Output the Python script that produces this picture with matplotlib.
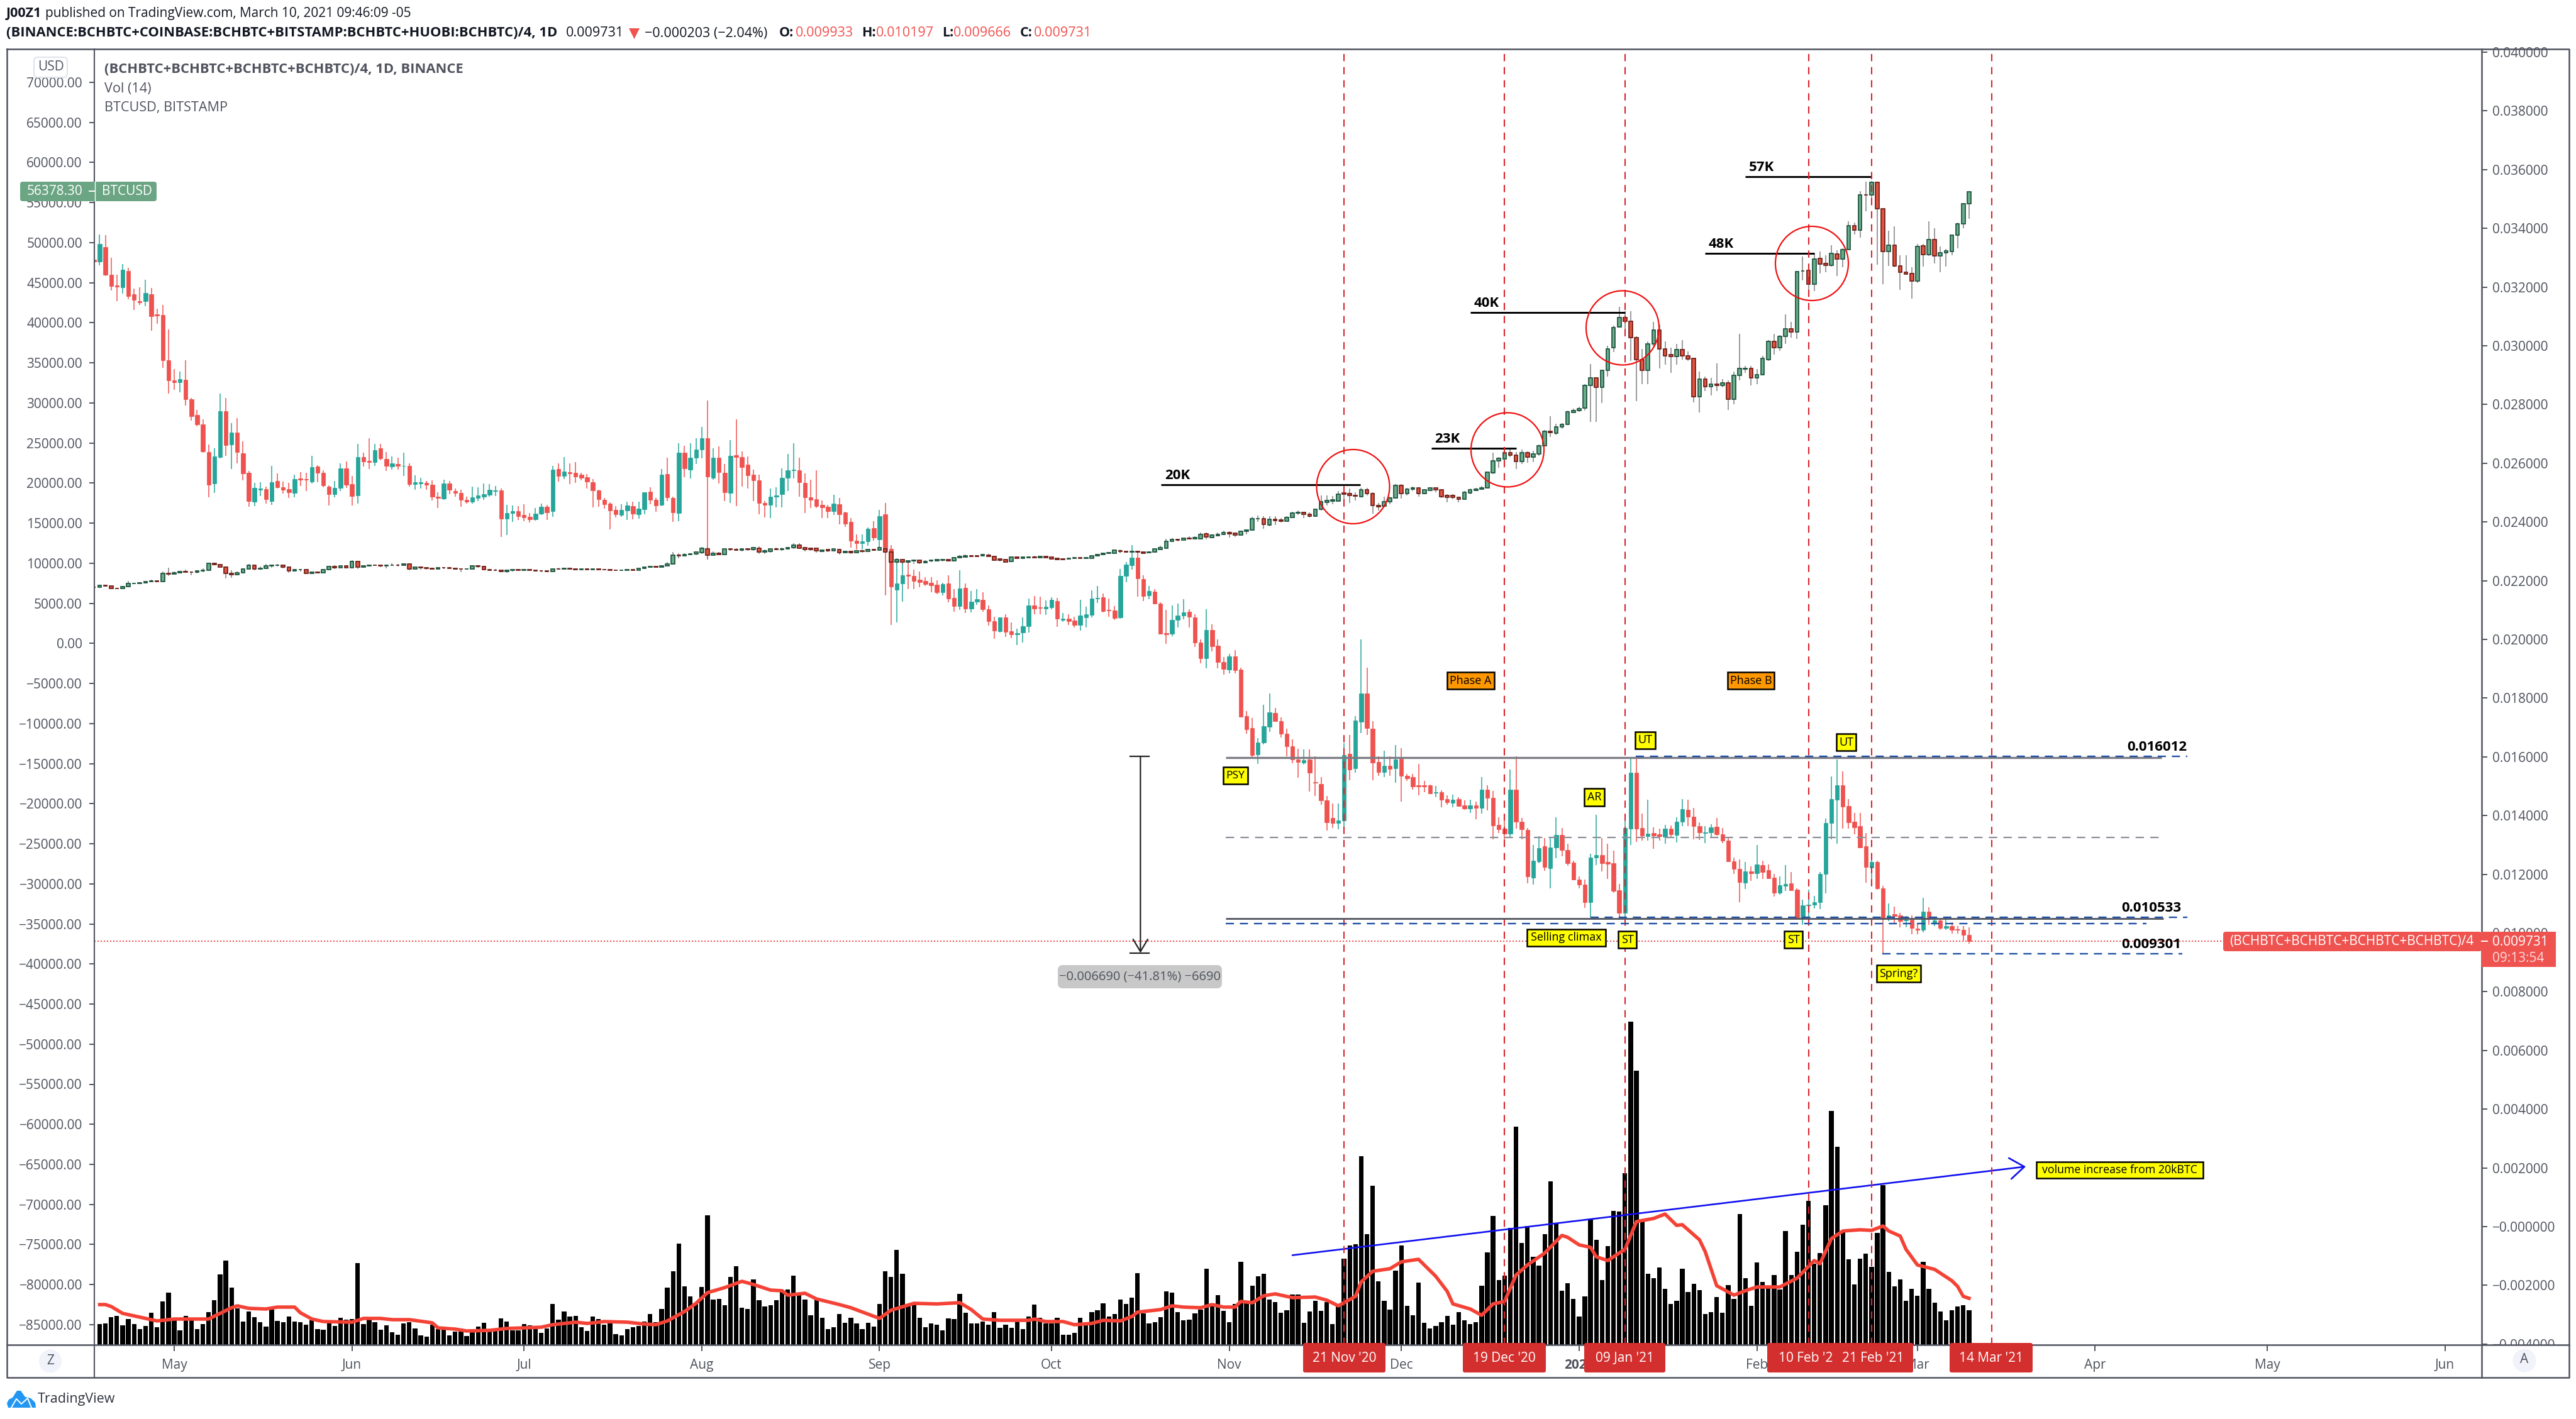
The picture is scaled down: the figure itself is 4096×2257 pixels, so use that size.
import numpy as np
import pandas as pd
import matplotlib
matplotlib.use("Agg")
import matplotlib.pyplot as plt
from matplotlib.patches import Ellipse, FancyBboxPatch, Polygon, Rectangle
from matplotlib.ticker import FixedLocator

plt.rcParams['font.family'] = ['Open Sans', 'DejaVu Sans']

W, H = 4096, 2257

# everything is daily, first candle is 17 Apr 2020, last one 10 Mar 2021
first_day = '2020-04-17'

# BCHBTC index, in 1e-5 BTC
bch_open = [
    3293, 3288, 3337, 3242, 3206, 3199, 3255, 3176, 3152, 3153, 3176, 3106, 3104, 2951, 2882, 2875, 2885, 2819, 2764, 2732,
    2639, 2530, 2621, 2778, 2663, 2705, 2634, 2567, 2470, 2509, 2512, 2471, 2539, 2518, 2511, 2499, 2548, 2545, 2538, 2589,
    2567, 2521, 2495, 2515, 2582, 2529, 2491, 2621, 2609, 2603, 2650, 2615, 2589, 2598, 2590, 2592, 2529, 2532, 2533, 2527,
    2487, 2480, 2532, 2505, 2498, 2476, 2470, 2482, 2486, 2493, 2505, 2508, 2412, 2431, 2437, 2424, 2418, 2410, 2428, 2451,
    2436, 2581, 2557, 2570, 2567, 2561, 2553, 2536, 2508, 2476, 2463, 2441, 2425, 2439, 2454, 2427, 2444, 2504, 2475, 2459,
    2563, 2482, 2431, 2637, 2579, 2618, 2646, 2686, 2550, 2619, 2568, 2500, 2628, 2622, 2595, 2562, 2541, 2464, 2459, 2486,
    2494, 2550, 2576, 2575, 2534, 2485, 2477, 2458, 2452, 2436, 2461, 2432, 2400, 2336, 2328, 2334, 2379, 2340, 2427, 2309,
    2170, 2191, 2220, 2217, 2204, 2199, 2193, 2186, 2160, 2191, 2142, 2113, 2176, 2105, 2128, 2134, 2103, 2063, 2027, 2076,
    2028, 2017, 2023, 2046, 2115, 2109, 2105, 2109, 2130, 2067, 2070, 2065, 2049, 2076, 2083, 2139, 2144, 2101, 2099, 2076,
    2216, 2253, 2279, 2205, 2149, 2163, 2122, 2021, 2019, 2066, 2081, 2095, 2076, 1990, 1935, 2032, 1979, 1923, 1898, 1943,
    1897, 1738, 1698, 1608, 1648, 1703, 1750, 1722, 1679, 1635, 1590, 1581, 1590, 1514, 1508, 1452, 1391, 1375, 1383, 1611,
    1561, 1720, 1816, 1696, 1583, 1548, 1570, 1561, 1593, 1535, 1530, 1503, 1504, 1504, 1477, 1479, 1457, 1443, 1456, 1434,
    1423, 1434, 1427, 1488, 1461, 1368, 1356, 1339, 1488, 1379, 1352, 1189, 1244, 1295, 1221, 1292, 1335, 1283, 1239, 1183,
    1165, 1104, 1256, 1265, 1242, 1237, 1146, 1069, 1356, 1547, 1358, 1330, 1340, 1336, 1328, 1355, 1334, 1379, 1420, 1396,
    1365, 1340, 1342, 1361, 1337, 1315, 1245, 1219, 1172, 1209, 1203, 1231, 1214, 1188, 1137, 1161, 1169, 1147, 1049, 1094,
    1096, 1104, 1201, 1374, 1455, 1503, 1432, 1379, 1363, 1295, 1222, 1242, 1153, 1053, 1064, 1061, 1043, 1045, 1016, 1010,
    1073, 1037, 1043, 1018, 1024, 1012, 1010, 993,
]
bch_high = [
    3296, 3379, 3377, 3300, 3243, 3279, 3265, 3194, 3200, 3224, 3197, 3126, 3140, 3056, 2920, 2913, 2951, 2822, 2782, 2750,
    2664, 2651, 2837, 2822, 2736, 2753, 2675, 2573, 2533, 2536, 2520, 2591, 2565, 2537, 2533, 2561, 2569, 2568, 2626, 2593,
    2577, 2525, 2540, 2599, 2606, 2557, 2665, 2636, 2685, 2666, 2666, 2639, 2623, 2619, 2637, 2599, 2559, 2550, 2540, 2542,
    2502, 2543, 2540, 2514, 2509, 2487, 2520, 2519, 2532, 2529, 2522, 2514, 2459, 2457, 2454, 2460, 2430, 2448, 2463, 2459,
    2591, 2600, 2621, 2599, 2604, 2567, 2564, 2547, 2510, 2481, 2466, 2453, 2461, 2469, 2469, 2469, 2502, 2518, 2482, 2580,
    2618, 2486, 2669, 2660, 2669, 2685, 2723, 2814, 2652, 2658, 2597, 2678, 2750, 2640, 2623, 2578, 2562, 2472, 2513, 2518,
    2583, 2631, 2668, 2618, 2566, 2544, 2575, 2474, 2459, 2492, 2482, 2435, 2414, 2358, 2358, 2381, 2402, 2442, 2465, 2322,
    2275, 2265, 2264, 2238, 2231, 2213, 2211, 2201, 2193, 2219, 2172, 2236, 2191, 2164, 2172, 2160, 2115, 2078, 2076, 2086,
    2058, 2037, 2074, 2140, 2148, 2146, 2133, 2144, 2142, 2090, 2086, 2078, 2134, 2111, 2168, 2183, 2156, 2140, 2113, 2240,
    2264, 2322, 2302, 2218, 2181, 2171, 2127, 2101, 2115, 2122, 2137, 2103, 2086, 2000, 2103, 2052, 2000, 1939, 1951, 1963,
    1904, 1756, 1732, 1663, 1777, 1816, 1766, 1735, 1697, 1660, 1627, 1625, 1625, 1602, 1530, 1466, 1442, 1442, 1647, 1674,
    1738, 2001, 1903, 1721, 1601, 1620, 1601, 1641, 1629, 1541, 1541, 1577, 1519, 1506, 1501, 1486, 1469, 1471, 1463, 1451,
    1453, 1447, 1532, 1504, 1484, 1393, 1381, 1556, 1601, 1391, 1358, 1299, 1329, 1324, 1324, 1395, 1358, 1303, 1246, 1192,
    1183, 1270, 1402, 1324, 1305, 1280, 1168, 1402, 1598, 1598, 1407, 1453, 1360, 1356, 1369, 1366, 1393, 1457, 1453, 1426,
    1377, 1365, 1371, 1391, 1358, 1328, 1258, 1251, 1242, 1227, 1299, 1246, 1233, 1201, 1192, 1231, 1207, 1153, 1114, 1147,
    1127, 1207, 1389, 1534, 1592, 1551, 1457, 1408, 1408, 1340, 1270, 1246, 1160, 1101, 1090, 1069, 1057, 1061, 1033, 1119,
    1087, 1053, 1047, 1053, 1037, 1024, 1024, 1020,
]
bch_low = [
    3286, 3274, 3237, 3188, 3153, 3177, 3158, 3122, 3140, 3134, 3052, 3074, 2925, 2838, 2851, 2842, 2797, 2746, 2726, 2635,
    2484, 2500, 2617, 2626, 2581, 2599, 2542, 2451, 2455, 2488, 2463, 2459, 2513, 2497, 2481, 2483, 2522, 2505, 2532, 2536,
    2518, 2457, 2484, 2505, 2517, 2456, 2463, 2589, 2581, 2591, 2611, 2573, 2578, 2579, 2557, 2520, 2510, 2514, 2509, 2473,
    2448, 2476, 2495, 2486, 2451, 2463, 2463, 2472, 2476, 2487, 2489, 2348, 2355, 2400, 2407, 2402, 2399, 2404, 2423, 2406,
    2418, 2537, 2545, 2529, 2533, 2541, 2514, 2449, 2451, 2446, 2375, 2416, 2417, 2406, 2408, 2412, 2427, 2461, 2435, 2454,
    2472, 2400, 2402, 2553, 2548, 2597, 2617, 2271, 2543, 2532, 2471, 2464, 2454, 2521, 2514, 2471, 2427, 2416, 2413, 2450,
    2450, 2505, 2548, 2486, 2431, 2447, 2447, 2413, 2413, 2423, 2392, 2384, 2313, 2307, 2307, 2320, 2336, 2312, 2150, 2049,
    2058, 2128, 2172, 2172, 2177, 2181, 2160, 2154, 2149, 2126, 2094, 2100, 2090, 2093, 2117, 2095, 2048, 2003, 2023, 2008,
    2004, 1980, 1990, 2023, 2086, 2086, 2084, 2103, 2043, 2059, 2049, 2040, 2031, 2041, 2076, 2125, 2092, 2078, 2067, 2070,
    2194, 2238, 2146, 2131, 2138, 2119, 2017, 1984, 2010, 2041, 2069, 2041, 1974, 1918, 1902, 1959, 1902, 1881, 1884, 1884,
    1734, 1678, 1596, 1576, 1643, 1686, 1719, 1666, 1602, 1578, 1529, 1574, 1481, 1466, 1436, 1350, 1358, 1354, 1358, 1520,
    1547, 1682, 1675, 1520, 1535, 1531, 1535, 1511, 1448, 1519, 1488, 1470, 1479, 1474, 1463, 1429, 1436, 1429, 1430, 1420,
    1409, 1388, 1407, 1418, 1320, 1340, 1315, 1328, 1356, 1320, 1170, 1165, 1237, 1213, 1151, 1254, 1262, 1229, 1180, 1153,
    1086, 1053, 1231, 1209, 1184, 1137, 1053, 1053, 1299, 1311, 1315, 1315, 1286, 1315, 1305, 1325, 1309, 1365, 1365, 1319,
    1317, 1307, 1325, 1332, 1307, 1243, 1202, 1105, 1150, 1178, 1184, 1184, 1184, 1125, 1131, 1143, 1143, 1049, 1027, 1043,
    1084, 1082, 1135, 1320, 1303, 1356, 1356, 1336, 1289, 1172, 1168, 1147, 930, 1041, 1033, 1020, 1020, 996, 996, 1002,
    1027, 1024, 1010, 1010, 997, 997, 975, 964,
]
bch_close = [
    3286, 3347, 3242, 3204, 3202, 3259, 3170, 3156, 3147, 3179, 3101, 3102, 2950, 2882, 2876, 2887, 2819, 2761, 2732, 2640,
    2527, 2623, 2777, 2662, 2704, 2638, 2566, 2472, 2515, 2514, 2477, 2536, 2519, 2509, 2501, 2545, 2544, 2543, 2586, 2568,
    2524, 2494, 2515, 2582, 2527, 2489, 2621, 2605, 2603, 2645, 2617, 2592, 2600, 2591, 2591, 2529, 2536, 2536, 2526, 2487,
    2481, 2532, 2509, 2498, 2476, 2470, 2484, 2491, 2495, 2509, 2507, 2412, 2430, 2437, 2420, 2416, 2410, 2429, 2451, 2433,
    2578, 2557, 2572, 2566, 2554, 2550, 2537, 2508, 2477, 2461, 2438, 2427, 2441, 2456, 2428, 2445, 2500, 2475, 2457, 2561,
    2483, 2433, 2637, 2582, 2619, 2646, 2686, 2554, 2618, 2570, 2502, 2626, 2622, 2586, 2559, 2541, 2464, 2459, 2486, 2491,
    2550, 2576, 2579, 2535, 2484, 2476, 2454, 2450, 2436, 2463, 2427, 2395, 2336, 2328, 2335, 2377, 2346, 2420, 2299, 2180,
    2191, 2218, 2216, 2200, 2195, 2189, 2185, 2161, 2189, 2140, 2113, 2174, 2105, 2128, 2136, 2102, 2062, 2031, 2074, 2026,
    2017, 2022, 2045, 2115, 2105, 2106, 2111, 2134, 2070, 2071, 2062, 2049, 2081, 2085, 2140, 2142, 2097, 2098, 2073, 2217,
    2254, 2279, 2207, 2147, 2165, 2122, 2020, 2017, 2067, 2082, 2093, 2078, 1989, 1935, 2032, 1977, 1923, 1899, 1943, 1896,
    1736, 1694, 1607, 1649, 1705, 1751, 1721, 1678, 1635, 1590, 1582, 1588, 1547, 1512, 1451, 1377, 1375, 1383, 1607, 1557,
    1724, 1816, 1699, 1581, 1548, 1570, 1559, 1591, 1535, 1527, 1499, 1500, 1500, 1476, 1479, 1455, 1446, 1455, 1433, 1424,
    1434, 1427, 1488, 1461, 1366, 1354, 1339, 1488, 1378, 1354, 1192, 1246, 1289, 1224, 1292, 1335, 1283, 1237, 1183, 1165,
    1104, 1257, 1265, 1237, 1236, 1143, 1069, 1358, 1547, 1356, 1332, 1338, 1332, 1329, 1355, 1336, 1379, 1422, 1396, 1363,
    1342, 1342, 1360, 1336, 1314, 1245, 1219, 1173, 1209, 1203, 1233, 1207, 1187, 1137, 1163, 1166, 1146, 1049, 1094, 1097,
    1105, 1202, 1374, 1456, 1503, 1430, 1377, 1360, 1292, 1224, 1242, 1153, 1051, 1061, 1057, 1041, 1046, 1018, 1010, 1073,
    1047, 1043, 1018, 1024, 1010, 1010, 993, 973,
]

# BTCUSD, Bitstamp
btc_open = [
    7040, 7030, 7220, 7130, 6880, 6840, 7120, 7480, 7510, 7540, 7690, 7790, 7750, 8720, 8620, 8820, 8970, 8900, 8880, 9030,
    9150, 9990, 9810, 9540, 8730, 8570, 8810, 9310, 9790, 9310, 9380, 9670, 9730, 9770, 9510, 9070, 9170, 9180, 8720, 8900,
    8840, 9200, 9580, 9430, 9700, 9450, 10200, 9520, 9660, 9780, 9770, 9670, 9750, 9780, 9770, 9890, 9260, 9500, 9470, 9330,
    9300, 9480, 9440, 9380, 9310, 9280, 9310, 9660, 9630, 9240, 9160, 9100, 9000, 9120, 9180, 9140, 9230, 9090, 9060, 9020,
    8990, 9320, 9260, 9380, 9300, 9200, 9280, 9240, 9280, 9230, 9170, 9140, 9090, 9150, 9190, 9150, 9370, 9520, 9610, 9540,
    9680, 9900, 11020, 10910, 11100, 11150, 11350, 11780, 11030, 11210, 11120, 11780, 11750, 11600, 11780, 11680, 11870, 11420, 11510, 11780,
    11740, 11830, 11930, 12260, 11920, 11840, 11840, 11480, 11690, 11590, 11750, 11330, 11480, 11330, 11540, 11510, 11750, 11650, 11780, 11390,
    10170, 10470, 10180, 10290, 10370, 10060, 10280, 10340, 10390, 10440, 10280, 10670, 10790, 10940, 10900, 10910, 11030, 10850, 10520, 10480,
    10220, 10760, 10640, 10720, 10760, 10700, 10820, 10760, 10610, 10550, 10520, 10600, 10730, 10610, 10640, 10910, 11060, 11240, 11270, 11570,
    11480, 11420, 11480, 11390, 11330, 11420, 11750, 11900, 12740, 12950, 12920, 13160, 13040, 13040, 13640, 13220, 13460, 13580, 13820, 13790,
    13550, 14000, 14120, 15560, 15570, 14760, 15500, 15370, 15280, 15700, 16250, 16320, 16120, 15890, 16710, 17620, 17750, 17780, 18750, 18690,
    18500, 18330, 19140, 18720, 17190, 17090, 17650, 18140, 19700, 18720, 19210, 19400, 18660, 19110, 19370, 19180, 18490, 18460, 18200, 17970,
    18790, 19110, 19240, 19440, 21320, 22790, 23050, 23800, 23470, 22720, 23800, 23210, 23660, 24670, 26460, 26200, 27050, 27340, 28840, 29030,
    29390, 32180, 33100, 31990, 34100, 36870, 39470, 40700, 40190, 38170, 35440, 34040, 37360, 39110, 36770, 36020, 35790, 36670, 35890, 35530,
    30790, 32970, 32060, 32310, 32220, 32540, 30430, 33420, 34200, 34330, 33100, 33520, 35400, 37680, 36930, 38300, 39270, 38820, 46440, 46530,
    44840, 48020, 47370, 47210, 48570, 47930, 49130, 52090, 51540, 55990, 55930, 57490, 54200, 48900, 49650, 47080, 46300, 46140, 45230, 49580,
    48480, 50360, 48320, 48740, 48930, 50950, 52380, 54890,
]
btc_high = [
    7070, 7300, 7290, 7170, 6960, 7170, 7760, 7580, 7600, 7730, 7970, 7860, 8960, 9460, 9000, 9010, 9190, 8950, 9100, 9390,
    10030, 10070, 9920, 9570, 9160, 8980, 9400, 9930, 9840, 9580, 9880, 9840, 9890, 9830, 9560, 9290, 9310, 9300, 9000, 9000,
    9220, 9620, 9740, 9770, 9740, 10380, 10230, 9790, 9840, 9860, 9790, 9810, 9980, 9880, 9960, 9990, 9540, 9600, 9500, 9480,
    9520, 9530, 9490, 9400, 9330, 9390, 9770, 9730, 9680, 9320, 9280, 9130, 9190, 9230, 9200, 9300, 9280, 9130, 9150, 9070,
    9380, 9450, 9420, 9460, 9340, 9290, 9330, 9300, 9310, 9300, 9220, 9190, 9190, 9220, 9210, 9400, 9540, 9630, 9630, 9700,
    10180, 11380, 11270, 11210, 11200, 11450, 12020, 12080, 11490, 11420, 11800, 11900, 11900, 11800, 11850, 12050, 12080, 11700, 11820, 11960,
    11980, 12010, 12470, 12490, 12000, 11880, 11880, 11720, 11720, 11820, 11810, 11590, 11560, 11610, 11620, 11790, 11810, 12090, 12030, 11420,
    10640, 10570, 10350, 10410, 10410, 10350, 10480, 10480, 10570, 10480, 10780, 10980, 11060, 11000, 11040, 11100, 11180, 10900, 10560, 10530,
    10780, 10810, 10800, 10870, 10950, 10850, 10880, 10800, 10640, 10620, 10650, 10760, 10760, 10780, 10980, 11150, 11310, 11440, 11730, 11750,
    11520, 11540, 11580, 11420, 11500, 11830, 12200, 13020, 13150, 13050, 13220, 13350, 13340, 13860, 13850, 13630, 13800, 14070, 14030, 13850,
    14090, 14260, 15770, 15960, 15890, 15890, 15890, 15665, 15860, 16446, 16609, 16446, 16381, 16771, 18495, 18495, 18397, 18982, 18820, 19308,
    18820, 19438, 19438, 18820, 17518, 18267, 18332, 19860, 19860, 19372, 19568, 19470, 19243, 19470, 19438, 19243, 18657, 18592, 18332, 18982,
    19308, 19372, 19633, 21454, 23763, 23275, 24186, 24348, 23860, 24186, 23925, 24023, 24836, 26625, 28349, 27438, 27503, 29064, 29324, 29552,
    32316, 34852, 33129, 34100, 37128, 39633, 42006, 41421, 41421, 38332, 36706, 37681, 40120, 39795, 37681, 36869, 37356, 37844, 36446, 35568,
    33941, 33291, 33129, 34917, 32966, 32803, 33941, 38593, 34657, 34592, 34267, 35892, 37844, 38657, 38494, 41031, 40120, 46462, 48250, 47340,
    48641, 48901, 48413, 49714, 49063, 49291, 52640, 52543, 56445, 57616, 57681, 57616, 54267, 51502, 52055, 48413, 48413, 46950, 49876, 49876,
    52640, 51827, 49551, 49226, 51014, 52478, 54950, 56380,
]
btc_low = [
    7010, 7020, 7060, 6790, 6750, 6780, 7020, 7390, 7470, 7510, 7640, 7700, 7710, 8400, 8620, 8740, 8860, 8530, 8760, 8930,
    9040, 9720, 9500, 8120, 8210, 8530, 8790, 9260, 9140, 9220, 9320, 9460, 9580, 9340, 8820, 8950, 8990, 8640, 8690, 8700,
    8800, 9110, 9310, 9390, 9370, 9410, 9300, 9500, 9600, 9690, 9530, 9380, 9730, 9600, 9720, 9100, 9210, 9240, 9240, 9230,
    9270, 9300, 9280, 9190, 8930, 9250, 9260, 9470, 9210, 9040, 9050, 8930, 8830, 9000, 9080, 9080, 9040, 8960, 8890, 8950,
    8950, 9200, 9210, 9180, 9130, 9130, 9200, 9170, 9140, 9110, 9100, 9060, 9030, 9120, 9130, 9130, 9290, 9460, 9480, 9510,
    9650, 9880, 10590, 10880, 10980, 11010, 11180, 10500, 10950, 11010, 11090, 11560, 11530, 11460, 11550, 11540, 11160, 11130, 11290, 11660,
    11550, 11680, 11800, 11800, 11520, 11590, 11360, 11370, 11440, 11480, 11100, 11270, 11130, 11210, 11340, 11450, 11560, 11580, 11210, 9960,
    9880, 9820, 9970, 9900, 9880, 10000, 10160, 10240, 10240, 10200, 10240, 10610, 10700, 10750, 10780, 10860, 10820, 10280, 10230, 10130,
    10160, 10560, 10520, 10640, 10650, 10620, 10650, 10500, 10400, 10440, 10460, 10540, 10550, 10560, 10610, 10880, 11020, 11200, 11250, 11260,
    11320, 11350, 11220, 11130, 11240, 11380, 11690, 11880, 12700, 12760, 12860, 12990, 12990, 13010, 12950, 13150, 13400, 13530, 13220, 13290,
    13520, 13620, 14090, 15170, 14332, 14592, 14755, 15080, 15176, 15633, 16055, 15665, 15730, 15828, 16543, 17193, 17356, 17715, 17617, 17518,
    17844, 18235, 18495, 16185, 16543, 16965, 17356, 18072, 18072, 18495, 19048, 18332, 18593, 18982, 18820, 18170, 17617, 18007, 17585, 17942,
    18657, 18982, 19145, 19308, 21160, 21909, 22722, 23210, 21747, 22397, 22560, 22624, 23372, 24575, 25747, 25974, 26787, 27275, 28738, 28901,
    29064, 27666, 27666, 29975, 33291, 36315, 39405, 38332, 35242, 30202, 32380, 32316, 37031, 34332, 34755, 33779, 34755, 35405, 35242, 30039,
    28803, 31503, 30917, 31503, 31990, 29129, 29811, 32803, 33779, 32153, 32316, 33454, 35242, 36055, 36543, 37356, 38169, 38007, 45324, 43372,
    43958, 46137, 46299, 47015, 45811, 46950, 49063, 51014, 50592, 53941, 55502, 47275, 44836, 47112, 46950, 44120, 45974, 42982, 45000, 47015,
    48315, 47437, 46299, 47015, 48413, 49323, 51828, 52966,
]
btc_close = [
    7030, 7250, 7130, 6880, 6840, 7120, 7480, 7510, 7540, 7690, 7790, 7750, 8720, 8620, 8820, 8970, 8900, 8880, 9030, 9150,
    9990, 9810, 9540, 8730, 8570, 8810, 9310, 9790, 9310, 9380, 9670, 9730, 9770, 9510, 9070, 9170, 9180, 8720, 8900, 8840,
    9200, 9580, 9430, 9700, 9450, 10200, 9520, 9660, 9780, 9770, 9670, 9750, 9780, 9770, 9890, 9260, 9500, 9470, 9330, 9300,
    9480, 9440, 9380, 9310, 9280, 9310, 9660, 9630, 9240, 9140, 9100, 9000, 9120, 9180, 9140, 9230, 9090, 9060, 9020, 9000,
    9320, 9260, 9380, 9300, 9200, 9280, 9240, 9280, 9230, 9170, 9140, 9090, 9150, 9190, 9150, 9370, 9520, 9610, 9540, 9680,
    9900, 11020, 10910, 11100, 11130, 11390, 11840, 11030, 11210, 11120, 11780, 11750, 11600, 11780, 11680, 11930, 11420, 11590, 11780, 11720,
    11830, 11920, 12260, 11900, 11720, 11750, 11540, 11660, 11570, 11780, 11330, 11480, 11300, 11540, 11510, 11720, 11600, 11960, 11390, 10170,
    10460, 10180, 10290, 10370, 10040, 10230, 10390, 10430, 10480, 10320, 10700, 10850, 10940, 10820, 10820, 11060, 10850, 10400, 10370, 10150,
    10750, 10640, 10760, 10750, 10700, 10820, 10730, 10570, 10490, 10490, 10610, 10730, 10600, 10730, 10930, 11060, 11270, 11360, 11600, 11450,
    11390, 11480, 11390, 11270, 11420, 11780, 11930, 12770, 12950, 12890, 13100, 13040, 13190, 13610, 13250, 13520, 13610, 13820, 13700, 13550,
    14030, 14180, 15560, 15590, 14820, 15500, 15310, 15270, 15700, 16280, 16380, 16120, 15890, 16740, 17710, 17810, 17910, 18620, 18620, 18430,
    18360, 19140, 18690, 17190, 17030, 17680, 18140, 19700, 18720, 19240, 19400, 18660, 19140, 19370, 19180, 18330, 18260, 18200, 17970, 18820,
    19140, 19240, 19440, 21390, 22790, 23110, 23800, 23470, 22720, 23800, 23210, 23660, 24670, 26460, 26270, 27050, 27340, 28870, 29060, 29320,
    32220, 33100, 31990, 34040, 36770, 39440, 40640, 40190, 38170, 35440, 34040, 37390, 39110, 36770, 35890, 35830, 36640, 35890, 35470, 30790,
    32970, 32060, 32310, 32220, 32540, 30460, 33450, 34270, 34330, 33130, 33520, 35530, 37680, 36930, 38330, 39270, 38820, 46360, 46490, 44840,
    47925, 47310, 47180, 48640, 47930, 49160, 52150, 51540, 55960, 55960, 57490, 54200, 48900, 49710, 47080, 46300, 46070, 45230, 49550, 48480,
    50360, 48350, 48740, 48960, 50950, 52380, 54890, 56378,
]

# volume in kBTC, starts one day after the candles
volume = [
    3.3, 3.4, 4.4, 4.6, 3.1, 4.1, 3.3, 2.5, 3.0, 5.1, 2.8, 6.9, 8.3, 3.9, 2.3, 4.6, 4.3, 2.5, 3.3, 5.2,
    7.1, 11.2, 13.4, 9.1, 5.8, 3.7, 5.3, 4.4, 3.6, 2.9, 5.6, 3.8, 3.6, 4.5, 3.7, 3.6, 3.2, 3.9, 2.5, 2.4,
    3.5, 3.0, 4.3, 4.0, 4.1, 13.0, 3.3, 4.1, 3.6, 2.4, 3.1, 2.0, 1.6, 3.4, 3.6, 2.6, 1.5, 1.3, 3.2, 2.5,
    2.4, 1.5, 2.1, 2.1, 1.4, 2.5, 2.9, 3.5, 2.5, 2.6, 4.2, 3.7, 2.3, 2.3, 3.3, 3.1, 2.9, 1.9, 2.6, 6.5,
    4.0, 5.3, 4.5, 4.6, 2.8, 2.2, 4.5, 4.1, 3.2, 3.4, 1.7, 1.5, 2.5, 2.8, 3.0, 3.7, 4.9, 3.6, 5.7, 9.1,
    11.7, 16.1, 9.3, 7.7, 6.7, 9.2, 20.6, 7.2, 7.3, 6.3, 10.8, 12.5, 5.9, 5.7, 10.4, 7.1, 6.1, 6.3, 7.1, 8.5,
    8.8, 11.0, 8.0, 7.2, 4.7, 7.3, 4.3, 2.5, 2.8, 4.9, 3.5, 4.3, 3.4, 2.5, 3.5, 2.9, 6.5, 11.7, 10.8, 15.1,
    11.3, 6.5, 6.6, 4.3, 2.8, 3.4, 3.2, 2.3, 4.2, 4.1, 8.1, 5.1, 3.4, 3.4, 3.7, 3.2, 5.2, 2.7, 3.2, 2.7,
    4.1, 2.5, 4.5, 6.4, 4.3, 3.4, 3.4, 4.3, 1.6, 1.6, 1.9, 4.3, 3.5, 5.2, 5.5, 6.6, 4.5, 4.9, 7.2, 6.5,
    7.5, 11.4, 5.0, 3.4, 3.6, 4.4, 8.5, 8.3, 5.2, 3.9, 4.0, 5.0, 5.6, 12.1, 6.6, 7.9, 5.4, 3.6, 6.5, 13.2,
    6.7, 9.4, 10.9, 11.3, 7.2, 6.8, 5.1, 5.5, 8.0, 8.0, 3.5, 5.3, 7.0, 5.4, 6.8, 3.3, 6.2, 13.7, 15.8, 16.0,
    30.0, 17.6, 25.3, 10.1, 7.0, 5.6, 11.8, 15.8, 6.2, 4.7, 9.9, 3.5, 2.6, 3.0, 3.6, 4.6, 3.2, 5.2, 3.9, 3.3,
    3.6, 9.4, 14.7, 20.5, 10.3, 11.0, 18.6, 34.7, 16.2, 18.9, 14.0, 12.6, 17.6, 26.0, 19.4, 8.6, 9.8, 7.3, 4.5, 7.7,
    19.9, 16.7, 10.3, 15.7, 21.3, 21.2, 27.3, 51.4, 43.6, 19.9, 11.3, 10.6, 12.3, 8.9, 6.5, 7.0, 12.1, 8.4, 9.7, 8.7,
    4.9, 5.2, 7.6, 5.1, 9.5, 7.3, 20.8, 10.6, 6.2, 13.1, 10.0, 9.2, 11.1, 8.8, 18.1, 11.1, 14.8, 19.1, 22.9, 12.9,
    14.6, 22.2, 37.2, 31.5, 18.0, 13.6, 9.6, 13.7, 14.5, 12.4, 17.8, 25.4, 11.6, 9.3, 10.4, 7.0, 8.9, 7.8, 13.2, 8.9,
    6.7, 5.3, 3.9, 5.5, 6.1, 6.3, 5.5,
]

# Vol (14) line, read at its bends: day counted from 1 May 2020, value in kBTC
ma_day = [
    -13, -12, -11, -9, -6, -3, 0, 2, 6, 8, 10, 11, 13, 16, 18, 21, 22, 24, 26, 31, 33, 36, 38, 41, 45, 46, 49, 51, 55, 58,
    61, 64, 66, 70, 72, 75, 79, 82, 84, 86, 89, 91, 93, 96, 99, 101, 104, 106, 107, 110, 112, 116, 118, 123, 125, 129, 133,
    137, 139, 141, 144, 149, 150, 152, 155, 157, 160, 162, 165, 167, 168, 170, 172, 174, 176, 179, 181, 183, 185, 186, 188,
    190, 192, 195, 199, 201, 203, 206, 207, 209, 212, 214, 217, 220, 222, 223, 226, 228, 230, 232, 234, 236, 239, 242, 243,
    245, 247, 248, 250, 253, 255, 258, 260, 262, 263, 266, 267, 269, 272, 274, 276, 280, 283, 286, 287, 289, 291, 294, 296,
    298, 299, 301, 302, 304, 307, 310, 311, 312, 313,
]
ma_value = [
    6.4, 6.4, 6.1, 5.0, 4.4, 3.8, 4.1, 4.1, 4.1, 5.0, 5.9, 6.2, 5.8, 5.7, 6.0, 6.0, 5.1, 4.1, 3.7, 3.6, 4.2, 4.2, 4.0, 4.0, 3.5, 2.7, 2.5, 2.2, 2.3, 2.6,
    2.7, 2.8, 3.2, 3.6, 3.4, 3.7, 3.6, 3.3, 3.2, 3.8, 5.3, 6.6, 8.3, 9.1, 10.1, 9.6, 8.7, 8.6, 7.9, 8.2, 7.3, 6.4, 5.9, 4.2, 5.5, 6.6, 6.5,
    6.7, 5.6, 4.1, 3.9, 3.9, 4.1, 3.7, 3.7, 3.2, 3.4, 3.9, 3.8, 4.5, 5.2, 5.4, 5.6, 6.2, 6.0, 5.9, 6.4, 6.0, 6.0, 6.9, 6.7,
    7.8, 8.1, 7.5, 7.6, 7.1, 6.2, 7.7, 10.0, 11.7, 12.1, 13.2, 13.6, 10.9, 8.5, 6.5, 5.7, 4.7, 6.5, 6.9, 11.1, 12.7, 14.6, 17.4, 17.1,
    15.9, 15.5, 14.0, 13.4, 15.2, 19.6, 20.1, 20.8, 19.0, 19.1, 16.7, 14.8, 9.4, 7.9, 8.6, 9.2, 9.2, 10.6, 13.4, 12.9, 16.9, 18.1, 18.3, 18.2,
    18.9, 18.1, 17.3, 15.2, 12.7, 12.0, 10.2, 9.3, 7.7, 7.4,
]

month_ticks = ['2020-05-01', '2020-06-01', '2020-07-01', '2020-08-01', '2020-09-01', '2020-10-01', '2020-11-01',
               '2020-12-01', '2021-01-01', '2021-02-01', '2021-03-01', '2021-04-01', '2021-05-01', '2021-06-01']
month_labels = ['May', 'Jun', 'Jul', 'Aug', 'Sep', 'Oct', 'Nov', 'Dec', '2021', 'Feb', 'Mar', 'Apr', 'May', 'Jun']
marked_dates = ['2020-11-21', '2020-12-19', '2021-01-09', '2021-02-10', '2021-02-21', '2021-03-14']

usd_ticks = list(range(70000, -90000, -5000))
bch_ticks = [0.040 - 0.002 * i for i in range(23)]

# round number BTC highs marked by hand: from day, to day, price
btc_level_from = [172.1, 219.2, 226.0, 267.0, 274.0]
btc_level_to = [206.8, 234.0, 253.0, 286.0, 296.0]
btc_level_price = [19760, 24350, 41310, 48660, 58265]

last_close = 0.009731


def to_day(date):
    return (pd.Timestamp(date) - pd.Timestamp('2020-05-01')).days


def draw_candles(ax, days, o, h, l, c, up, down, up_edge, down_edge, wick_up, wick_down, edge_px, body):
    o, h, l, c = [np.array(a, dtype=float) for a in (o, h, l, c)]
    rising = c >= o
    ax.vlines(days, l, h, colors=np.where(rising, wick_up, wick_down), linewidth=1.1, zorder=2)
    ax.bar(days, np.abs(c - o), bottom=np.minimum(o, c), width=body,
           color=np.where(rising, up, down), edgecolor=np.where(rising, up_edge, down_edge),
           linewidth=edge_px * 0.72, zorder=3)


fig = plt.figure(figsize=(W / 100, H / 100), dpi=100, facecolor='white')

rect = [150 / W, 1 - 2139 / H, (3946 - 150) / W, (2139 - 78) / H]
ax_vol = fig.add_axes(rect, zorder=1)
ax_bch = fig.add_axes(rect, zorder=2)
ax_usd = fig.add_axes(rect, zorder=3)
ax_draw = fig.add_axes(rect, zorder=4)

day_lim = (-13.93, 402.4)
bch_lim = ((1951 - 2139) / 46700, (1951 - 78) / 46700)
usd_lim = (70000 - (2139 - 131) / 0.012748, 70000 + (131 - 78) / 0.012748)

days = np.arange(len(bch_open)) + to_day(first_day)

for ax in (ax_vol, ax_bch, ax_usd, ax_draw):
    ax.set_xlim(*day_lim)
    ax.patch.set_visible(False)
    for side in ('top', 'left', 'right', 'bottom'):
        ax.spines[side].set_visible(False)
    ax.tick_params(left=False, right=False, bottom=False, labelleft=False, labelbottom=False)
ax_bch.set_ylim(*bch_lim)
ax_draw.set_ylim(*bch_lim)
ax_usd.set_ylim(*usd_lim)
ax_vol.set_ylim(0, 206.1)

# volume
ax_vol.bar(days[1:], volume, width=0.8, color='black')
ax_vol.plot(ma_day, ma_value, color='#F44336', linewidth=4.0, solid_joinstyle='round')
ax_vol.annotate('', xy=(322.9, 28.35), xytext=(195, 14.25),
                arrowprops=dict(arrowstyle='->,head_length=0.55,head_width=0.4', color='#1010F0', lw=1.9,
                                mutation_scale=30, shrinkA=0, shrinkB=0))

# candles
draw_candles(ax_bch, days, np.array(bch_open) * 1e-5, np.array(bch_high) * 1e-5, np.array(bch_low) * 1e-5,
             np.array(bch_close) * 1e-5, '#26A69A', '#EF5350', '#26A69A', '#EF5350',
             '#26A69A', '#EF5350', 0.8, 0.7)
draw_candles(ax_usd, days, btc_open, btc_high, btc_low, btc_close, '#6AAB8A', '#E0533F', '#17503A', '#6B1A14',
             '#808080', '#808080', 1.7, 0.62)

for frm, to, price in zip(btc_level_from, btc_level_to, btc_level_price):
    ax_usd.plot([frm, to], [price, price], color='black', linewidth=2.1, solid_capstyle='butt', zorder=5)

# axis ticks
ax_usd.yaxis.set_major_locator(FixedLocator(usd_ticks))
ax_usd.set_yticklabels([f'{v:.2f}'.replace('-', '\u2212') for v in usd_ticks])
ax_usd.tick_params(axis='y', left=True, labelleft=True, length=5.8, width=1.4, color='#50535E',
                   labelcolor='#50535E', labelsize=15, pad=8)

ax_bch.yaxis.set_major_locator(FixedLocator(bch_ticks))
ax_bch.set_yticklabels([('\u2212' if v < 1e-9 else '') + f'{abs(v):.6f}' for v in bch_ticks])
ax_bch.tick_params(axis='y', right=True, labelright=True, length=6.5, width=1.4, color='#50535E',
                   labelcolor='#50535E', labelsize=15, pad=6)

ax_vol.xaxis.set_major_locator(FixedLocator([to_day(d) for d in month_ticks]))
ax_vol.set_xticklabels(month_labels)
ax_vol.tick_params(axis='x', bottom=True, labelbottom=True, length=7, width=1.4, color='#50535E',
                   labelcolor='#50535E', labelsize=15, pad=9)
ax_vol.get_xticklabels()[8].set_fontweight('bold')

# levels and dates drawn on the chart
for d in marked_dates:
    ax_draw.axvline(to_day(d), color='#D8232A', linewidth=1.5, linestyle=(0, (5.5, 4.5)))

ax_draw.plot([183.4, 346.6], [0.01597, 0.01597], color='#7C7C86', linewidth=2.4, solid_capstyle='butt')
ax_draw.plot([183.4, 346.9], [0.010495, 0.010495], color='#50535E', linewidth=2.0, solid_capstyle='butt')
ax_draw.plot([183.4, 346.2], [0.013260, 0.013260], color='#8E8E9A', linewidth=1.6, linestyle=(0, (6, 4.5)))
blue_dash = dict(color='#1F4FA5', linewidth=1.7, linestyle=(0, (5.5, 4)))
ax_draw.plot([254.9, 351.1], [0.016012, 0.016012], **blue_dash)
ax_draw.plot([247.0, 351.1], [0.010533, 0.010533], **blue_dash)
ax_draw.plot([183.4, 343.9], [0.010320, 0.010320], **blue_dash)
ax_draw.plot([297.9, 350.2], [0.009301, 0.009301], **blue_dash)
ax_draw.plot([-13.93, 357.3], [last_close, last_close], color='#EF5350', linewidth=1.5, linestyle=(0, (1, 1.4)))

# measuring tool
ax_draw.plot([166.7, 170.0], [0.016012, 0.016012], color='#222222', linewidth=1.6)
ax_draw.plot([166.7, 170.0], [0.009322, 0.009322], color='#222222', linewidth=1.6)
ax_draw.annotate('', xy=(168.5, 0.009322), xytext=(168.5, 0.016012),
                 arrowprops=dict(arrowstyle='->,head_length=0.5,head_width=0.3', color='#222222', lw=1.6,
                                 mutation_scale=28, shrinkA=0, shrinkB=0))

# from here on plain page furniture, in picture pixels
over = fig.add_axes([0, 0, 1, 1], zorder=5)
over.set_xlim(0, W)
over.set_ylim(H, 0)
over.axis('off')
over.patch.set_visible(False)

GREY = '#50535E'


def txt(x, y, s, size=15, color=GREY, ha='left', weight='normal', z=8):
    over.text(x, y, s, fontsize=size, color=color, ha=ha, va='center', fontweight=weight, zorder=z)


def tag(x0, x1, y0, y1, s, face='#FFFF00', size=13):
    over.add_patch(Rectangle((x0, y0), x1 - x0, y1 - y0, facecolor=face, edgecolor='black', linewidth=1.8, zorder=6))
    over.text((x0 + x1) / 2, (y0 + y1) / 2, s, fontsize=size, color='black', ha='center', va='center', zorder=7)


# frame
over.add_patch(Rectangle((3947, 2140), 137, 50, facecolor='white', edgecolor='none', zorder=1))
over.plot([11, 4085, 4085, 11, 11], [78, 78, 2191, 2191, 78], color=GREY, linewidth=1.8, zorder=2)
over.plot([150, 150], [78, 2191], color=GREY, linewidth=1.5, zorder=2)
over.plot([3946, 3946], [78, 2191], color=GREY, linewidth=1.8, zorder=2)
over.plot([11, 4085], [2139, 2139], color=GREY, linewidth=1.8, zorder=2)

# header
txt(10, 21, 'J00Z1', size=15.5, color='#131722', weight='bold')
txt(72, 21, 'published on TradingView.com, March 10, 2021 09:46:09 -05', size=15, color='#131722')
txt(10, 53, '(BINANCE:BCHBTC+COINBASE:BCHBTC+BITSTAMP:BCHBTC+HUOBI:BCHBTC)/4, 1D', size=15.8, color='#131722', weight='bold')
txt(900, 53, '0.009731', size=15.5, color='#131722')
over.add_patch(Polygon([[1000, 45], [1017, 45], [1008.5, 62]], facecolor='#EF5350', edgecolor='none'))
txt(1025, 53, '\u22120.000203 (\u22122.04%)', size=15.5, color='#131722')
for xl, lab, xv, val in [(1239, 'O:', 1265, '0.009933'), (1370, 'H:', 1393, '0.010197'),
                         (1498, 'L:', 1516, '0.009666'), (1622, 'C:', 1644, '0.009731')]:
    txt(xl, 53, lab, size=15.5, color='#131722', weight='bold')
    txt(xv, 53, val, size=15.5, color='#EF5350')

# legend
txt(166, 110, '(BCHBTC+BCHBTC+BCHBTC+BCHBTC)/4, 1D, BINANCE', size=15.8, weight='bold')
txt(166, 141, 'Vol (14)', size=15.6)
txt(166, 172, 'BTCUSD, BITSTAMP', size=15.6)

# USD button and BTC price tag
over.add_patch(FancyBboxPatch((58, 95), 45, 24, boxstyle='round,pad=4,rounding_size=6', facecolor='white',
                              edgecolor='#E0E3EB', linewidth=1.5, zorder=6))
txt(81, 107, 'USD', ha='center', z=7)
over.add_patch(FancyBboxPatch((36, 293), 209, 23, boxstyle='round,pad=4,rounding_size=4', facecolor='#6BA583',
                              edgecolor='none', zorder=6))
over.plot([151, 151], [289, 320], color='white', linewidth=1, zorder=7)
over.plot([142, 150], [304, 304], color='white', linewidth=1.4, zorder=7)
txt(131, 304, '56378.30', color='white', ha='right')
txt(162, 304, 'BTCUSD', color='white')

# last price tags
over.add_patch(FancyBboxPatch((3539, 1486), 403, 23, boxstyle='round,pad=4,rounding_size=4', facecolor='#EF5350',
                              edgecolor='none', zorder=6))
over.add_patch(Rectangle((3946, 1482), 118, 56, facecolor='#EF5350', edgecolor='none', zorder=6))
over.plot([3946, 3955], [1497, 1497], color='white', linewidth=1.4, zorder=7)
txt(3739, 1497, '(BCHBTC+BCHBTC+BCHBTC+BCHBTC)/4', color='white', ha='center')
txt(3963, 1498, '0.009731', color='white')
txt(3963, 1524, '09:13:54', color='#FBD9D8')

# marked date tags on the time axis
for x0, x1, s in [(2072, 2203, "21 Nov '20"), (2326, 2458, "19 Dec '20"), (2519, 2648, "09 Jan '21"),
                  (2810, 2945, "10 Feb '21"), (2915, 3042, "21 Feb '21"), (3100, 3232, "14 Mar '21")]:
    over.add_patch(FancyBboxPatch((x0 + 3, 2139), x1 - x0 - 6, 41, boxstyle='round,pad=3,rounding_size=3',
                                  facecolor='#D32F2F', edgecolor='none', zorder=6))
    over.text((x0 + x1) / 2, 2160, s, fontsize=15, color='white', ha='center', va='center', zorder=6,
              clip_on=True)
over.add_patch(FancyBboxPatch((2918, 2139), 121, 41, boxstyle='round,pad=3,rounding_size=3',
                              facecolor='#D32F2F', edgecolor='none', zorder=7))
txt(2978.5, 2160, "21 Feb '21", color='white', ha='center', z=8)

# circles round the BTC breakouts
for cx, cy in [(2151.5, 774), (2397, 715.5), (2580, 521.5), (2881, 419)]:
    over.add_patch(Ellipse((cx, cy), 116, 118, facecolor='none', edgecolor='#F01010', linewidth=1.6, zorder=6))

for x, y, s in [(1872, 757, '20K'), (2301, 698, '23K'), (2364, 482, '40K'), (2737, 389, '48K'), (2801, 266, '57K')]:
    txt(x, y, s, size=16, color='black', ha='center', weight='bold', z=7)

for x, y, s in [(3382, 1189, '0.016012'), (3373, 1445, '0.010533'), (3373, 1502, '0.009301')]:
    txt(x, y, s, size=16, color='black', weight='bold', z=7)

tag(2301, 2376, 1069, 1096, 'Phase A', face='#FF9800')
tag(2747, 2821, 1069, 1096, 'Phase B', face='#FF9800')
tag(1945, 1984, 1220, 1247, 'PSY', size=12.5)
tag(2600, 2632, 1164, 1191, 'UT', size=13)
tag(2920, 2951, 1167, 1194, 'UT', size=13)
tag(2519, 2551, 1254, 1282, 'AR', size=13)
tag(2428, 2553, 1478, 1505, 'Selling climax')
tag(2573, 2602, 1481, 1508, 'ST', size=13)
tag(2837, 2866, 1481, 1508, 'ST', size=13)
tag(2984, 3054, 1535, 1562, 'Spring?')
tag(3238, 3503, 1848, 1874, 'volume increase from 20kBTC', size=12.8)

# measure label
over.add_patch(FancyBboxPatch((1690, 1543), 245, 21, boxstyle='round,pad=8,rounding_size=8', facecolor='#C8C8C8',
                              edgecolor='none', zorder=6))
txt(1813, 1554, '\u22120.006690 (\u221241.81%) \u22126690', ha='center', size=14.5, z=7)

# Z and A buttons
over.add_patch(Ellipse((80, 2165), 36, 37, facecolor='#F0F3FA', edgecolor='none', zorder=6))
txt(80, 2164, 'Z', ha='center', size=15, z=7)
over.add_patch(Ellipse((4014, 2164), 37, 37, facecolor='#F0F3FA', edgecolor='none', zorder=6))
txt(4014, 2163, 'A', ha='center', size=15, z=7)

# TradingView mark
over.add_patch(Polygon([[11, 2232], [14, 2226], [20, 2223], [27, 2212], [33, 2212], [40, 2222], [49, 2224],
                        [56, 2231], [57, 2239], [13, 2239]], facecolor='#2196F3', edgecolor='none', zorder=6))
over.plot([18, 26, 34, 44, 50], [2239, 2225, 2233, 2224, 2239], color='white', linewidth=1.4, zorder=7)
txt(60, 2225, 'TradingView', color='#30333E', size=15.5)

fig.savefig('out.png', dpi=100, facecolor='white')
